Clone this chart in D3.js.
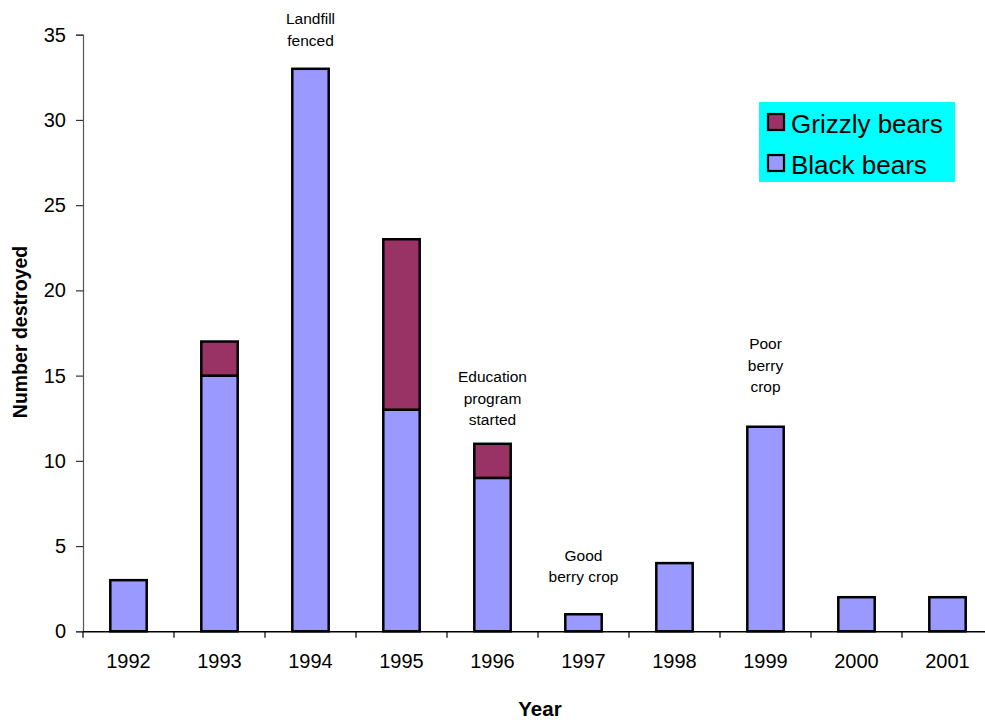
<!DOCTYPE html>
<html>
<head>
<meta charset="utf-8">
<script src="https://cdn.jsdelivr.net/npm/d3@7"></script>
<style>
  body { margin: 0; background: #fff; }
  text { font-family: "Liberation Sans", Arial, sans-serif; fill: #000; }
</style>
</head>
<body>
<script>
// bears destroyed per year
var years = ["1992", "1993", "1994", "1995", "1996", "1997", "1998", "1999", "2000", "2001"];
var blackBears = [3, 15, 33, 13, 9, 1, 4, 12, 2, 2];
var grizzlyBears = [0, 2, 0, 10, 2, 0, 0, 0, 0, 0];
var yTicks = [0, 5, 10, 15, 20, 25, 30, 35];

// notes above some bars (value = where the first line sits, in chart units)
var noteYears = ["1994", "1996", "1997", "1999"];
var noteLines = [["Landfill", "fenced"], ["Education", "program", "started"], ["Good", "berry crop"], ["Poor", "berry", "crop"]];
var noteValues = [35.6, 14.6, 4.15, 16.55];

var seriesNames = ["Grizzly bears", "Black bears"];
var colors = {"Black bears": "#9999ff", "Grizzly bears": "#993366"};

var margin = {top: 34.7, left: 83, bottom: 92.7, right: 0},
    width = 910,
    height = 631.3 - margin.top;

var svg = d3.select("body").append("svg")
    .attr("width", 985)
    .attr("height", 724);

var g = svg.append("g")
    .attr("transform", "translate(" + margin.left + "," + margin.top + ")");

var x = d3.scaleBand()
    .domain(years)
    .range([0, width])
    .paddingInner(0.6)
    .paddingOuter(0.3);

var y = d3.scaleLinear()
    .domain([0, 35])
    .range([height, 0]);

var rows = years.map(function(yr, i) {
    return {year: yr, "Black bears": blackBears[i], "Grizzly bears": grizzlyBears[i]};
});

var stack = d3.stack().keys(["Black bears", "Grizzly bears"])(rows);

// bars
stack.forEach(function(layer) {
    g.selectAll(".bar-" + layer.index)
        .data(layer.filter(function(d) { return d[1] > d[0]; }))
        .enter().append("rect")
        .attr("x", function(d) { return x(d.data.year); })
        .attr("y", function(d) { return y(d[1]); })
        .attr("width", x.bandwidth())
        .attr("height", function(d) { return y(d[0]) - y(d[1]); })
        .attr("fill", colors[layer.key])
        .attr("stroke", "#000")
        .attr("stroke-width", 2.5);
});

// y axis
var yAxis = g.append("g")
    .call(d3.axisLeft(y).tickValues(yTicks).tickSize(7).tickPadding(10));
yAxis.select(".domain").attr("stroke", "#555").attr("stroke-width", 1.2);
yAxis.selectAll(".tick line").attr("stroke", "#333").attr("stroke-width", 1.2);
yAxis.selectAll(".tick text")
    .style("font-size", "20px")
    .style("font-family", "Liberation Sans, Arial, sans-serif");

// x axis: labels at band centers, tick marks at band edges
var xAxis = g.append("g")
    .attr("transform", "translate(0," + height + ")")
    .call(d3.axisBottom(x).tickSize(0).tickPadding(23));
xAxis.select(".domain").attr("stroke", "#000").attr("stroke-width", 1.6);
xAxis.selectAll(".tick text")
    .style("font-size", "20px")
    .style("font-family", "Liberation Sans, Arial, sans-serif");

var edges = years.map(function(d) { return x(d) + x.bandwidth() / 2 - x.step() / 2; });
xAxis.selectAll(".edge")
    .data(edges)
    .enter().append("line")
    .attr("x1", function(d) { return d; })
    .attr("x2", function(d) { return d; })
    .attr("y1", 0)
    .attr("y2", 6.5)
    .attr("stroke", "#000")
    .attr("stroke-width", 1.2);

// axis titles
svg.append("text")
    .attr("transform", "translate(26.5," + 332 + ") rotate(-90)")
    .attr("text-anchor", "middle")
    .style("font-size", "19.5px")
    .style("font-weight", "bold")
    .text("Number destroyed");

svg.append("text")
    .attr("x", 540)
    .attr("y", 716)
    .attr("text-anchor", "middle")
    .style("font-size", "20.5px")
    .style("font-weight", "bold")
    .text("Year");

// notes
noteYears.forEach(function(yr, i) {
    var t = g.append("text")
        .attr("x", x(yr) + x.bandwidth() / 2)
        .attr("y", y(noteValues[i]))
        .attr("text-anchor", "middle")
        .style("font-size", "15.5px");
    t.selectAll("tspan")
        .data(noteLines[i])
        .enter().append("tspan")
        .attr("x", x(yr) + x.bandwidth() / 2)
        .attr("dy", function(d, j) { return j === 0 ? 0 : 21.5; })
        .text(function(d) { return d; });
});

// legend
var legend = svg.append("g").attr("transform", "translate(759,102)");
legend.append("rect")
    .attr("width", 196)
    .attr("height", 80)
    .attr("fill", "#00ffff");

var items = legend.selectAll(".item")
    .data(seriesNames)
    .enter().append("g")
    .attr("transform", function(d, i) { return "translate(9," + (12 + i * 41) + ")"; });

items.append("rect")
    .attr("width", 16)
    .attr("height", 16)
    .attr("fill", function(d) { return colors[d]; })
    .attr("stroke", "#000")
    .attr("stroke-width", 2.2);

items.append("text")
    .attr("x", 23)
    .attr("y", 19)
    .style("font-size", "26px")
    .text(function(d) { return d; });
</script>
</body>
</html>
